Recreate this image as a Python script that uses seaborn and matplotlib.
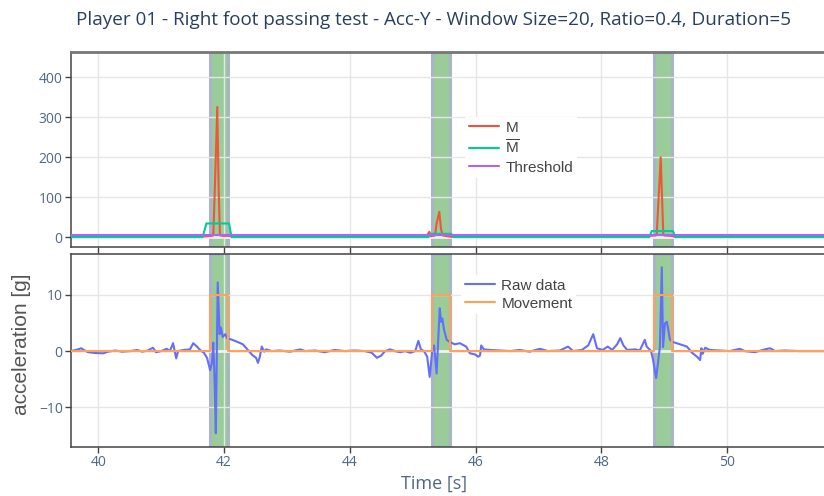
import numpy as np
import pandas as pd
import matplotlib
matplotlib.use("Agg")
import matplotlib.pyplot as plt
import seaborn as sns

# ---------------- data ----------------
title = "Player 01 - Right foot passing test - Acc-Y - Window Size=20, Ratio=0.4, Duration=5"

band_start = [41.77, 45.31, 48.83]
band_end = [42.06, 45.59, 49.12]

m_time = [39.55, 41.60, 41.72, 41.80, 41.83, 41.86, 41.893, 41.915, 41.936, 41.99, 42.08, 42.15,
          45.10, 45.22, 45.264, 45.29, 45.355, 45.38, 45.423, 45.45, 45.477, 45.55, 45.62,
          48.70, 48.78, 48.86, 48.879, 48.943, 48.984, 49.00, 49.10, 49.20, 51.65]
m_values = [0.5, 0.5, 2, 3, 4, 150, 326, 120, 4, 3, 3, 0.5,
            0.5, 2, 13, 2, 4, 34, 63, 20, 4, 2, 0.5,
            0.5, 3, 4, 5, 200, 5, 4, 3, 0.5, 0.5]

mbar_time = [39.55, 41.66, 41.72, 42.08, 42.12, 45.25, 45.29, 45.61, 45.65, 48.76, 48.80, 49.14, 49.17, 51.65]
mbar_values = [0, 0, 34, 34, 0, 0, 8, 8, 0, 0, 15, 15, 0, 0]

threshold_value = 5

raw_time = [39.57, 39.68, 39.73, 39.77, 39.84, 39.95, 40.08, 40.16, 40.27, 40.38, 40.51, 40.62, 40.70,
            40.79, 40.87, 40.92, 41.00, 41.09, 41.14, 41.19, 41.24, 41.27, 41.36, 41.46, 41.51, 41.57,
            41.62, 41.68, 41.73, 41.78, 41.81, 41.83, 41.85, 41.87, 41.90, 41.93, 41.95, 41.98, 42.02,
            42.05, 42.13, 42.22, 42.30, 42.37, 42.45, 42.51, 42.54, 42.57, 42.60, 42.64, 42.67, 42.76,
            42.89, 43.05, 43.21, 43.29, 43.45, 43.60, 43.76, 43.92, 44.08, 44.24, 44.35, 44.43, 44.50,
            44.56, 44.64, 44.72, 44.80, 44.88, 44.96, 45.04, 45.09, 45.13, 45.18, 45.23, 45.27, 45.31,
            45.34, 45.38, 45.43, 45.45, 45.47, 45.50, 45.54, 45.59, 45.67, 45.75, 45.85, 45.91, 45.99,
            46.04, 46.07, 46.09, 46.13, 46.23, 46.39, 46.55, 46.70, 46.86, 47.02, 47.15, 47.34, 47.47,
            47.55, 47.69, 47.79, 47.87, 47.93, 48.02, 48.10, 48.17, 48.25, 48.30, 48.35, 48.41, 48.54,
            48.61, 48.69, 48.72, 48.79, 48.82, 48.87, 48.90, 48.93, 48.96, 48.98, 49.01, 49.04, 49.06,
            49.09, 49.14, 49.25, 49.36, 49.44, 49.52, 49.57, 49.59, 49.61, 49.65, 49.72, 49.88, 50.04,
            50.20, 50.28, 50.44, 50.60, 50.68, 50.76, 50.91, 51.15, 51.65]
raw_values = [0.0, 0.3, 0.5, 0.2, -0.2, -0.35, -0.4, -0.1, 0.1, -0.1, 0.0, 0.2, -0.1,
              0.1, 0.6, -0.2, 0.0, 0.4, 0.0, 1.4, -1.3, 0.0, 0.2, 0.3, 1.4, 0.8,
              0.2, -0.3, -1.2, -3.4, -2.0, 1.5, -5.0, -14.6, 12.2, 3.0, 4.2, 2.5, 3.0,
              2.3, 2.0, 1.6, 1.2, 0.3, -0.7, -1.2, -2.1, -1.0, 0.8, -0.1, 0.3, 0.0,
              0.1, -0.1, 0.3, 0.0, 0.1, -0.2, 0.2, 0.0, 0.1, 0.0, -0.3, -1.2, -0.8,
              0.0, 0.3, 0.0, -0.2, 0.0, -0.3, 0.0, 1.8, 0.3, 0.0, -1.0, -4.6, 0.0,
              1.0, -4.0, 7.6, 5.2, 5.8, 3.7, 2.0, 1.6, 1.2, 1.4, 0.8, -0.4, -0.6,
              -1.0, -0.8, 1.0, 0.3, 0.2, 0.1, 0.0, 0.2, -0.1, 0.4, 0.0, 0.1, 0.8,
              0.0, 0.2, 1.0, 3.0, 0.5, 0.2, 0.8, 0.2, 1.2, 2.3, 1.0, 0.2, 0.3,
              0.1, 2.0, 0.8, 0.0, -1.5, -4.8, -2.1, 0.8, 14.9, 0.7, 4.9, 5.2, 4.0,
              2.0, 1.6, 1.2, 0.8, -0.3, -1.0, -1.6, 0.5, -0.5, 0.6, 0.2, 0.1, 0.0,
              0.4, 0.0, -0.2, 0.3, 0.5, 0.0, 0.1, 0.0, 0.0]

movement_level = 10

# ---------------- style ----------------
sns.set_theme(style="whitegrid")
plt.rcParams["font.family"] = ["Open Sans", "DejaVu Sans"]
plt.rcParams["mathtext.fontset"] = "custom"
plt.rcParams["mathtext.rm"] = "Liberation Sans"
plt.rcParams["mathtext.it"] = "Liberation Sans:italic"

C_M, C_MBAR, C_THR = "#EF553B", "#00CC96", "#AB63FA"
C_RAW, C_MOV = "#636EFA", "#FFA15A"
TICK_COL = "#506784"
GRID_COL = "#e6e6e6"

W, H = 824, 496
fig = plt.figure(figsize=(W / 100, H / 100), dpi=100)
fig.patch.set_facecolor("white")

left_px, right_px = 71, 832
ax1 = fig.add_axes([left_px / W, (H - 247) / H, (right_px - left_px) / W, (247 - 52.3) / H])
ax2 = fig.add_axes([left_px / W, (H - 446.7) / H, (right_px - left_px) / W, (446.7 - 254.3) / H])

px_per_s = 62.9
x0 = 40 - (98.2 - left_px) / px_per_s
x1 = 40 + (right_px - 98.2) / px_per_s

top_df = pd.DataFrame({"t": m_time, "v": m_values})
mbar_df = pd.DataFrame({"t": mbar_time, "v": mbar_values})
thr_df = pd.DataFrame({"t": [x0, x1], "v": [threshold_value, threshold_value]})
raw_df = pd.DataFrame({"t": raw_time, "v": raw_values})

mov_t, mov_v = [x0], [0]
for s, e in zip(band_start, band_end):
    mov_t += [s, s, e, e]
    mov_v += [0, movement_level, movement_level, 0]
mov_t.append(x1)
mov_v.append(0)
mov_df = pd.DataFrame({"t": mov_t, "v": mov_v})

lw = 1.5
for ax in (ax1, ax2):
    ax.set_facecolor("white")
    ax.set_axisbelow(True)
    ax.grid(True, color=GRID_COL, lw=1.0, zorder=0.5)
    for s, e in zip(band_start, band_end):
        ax.axvspan(s, e, facecolor="#99cc99", edgecolor="#a9b4c6", lw=2.2, zorder=0.3)
    ax.axhline(0, color="#eef0f3", lw=2, zorder=0.6)

sns.lineplot(data=top_df, x="t", y="v", ax=ax1, color=C_M, lw=lw, label="M",
             estimator=None, sort=False, zorder=3)
sns.lineplot(data=mbar_df, x="t", y="v", ax=ax1, color=C_MBAR, lw=lw, label=r"$\overline{\mathrm{M}}$",
             estimator=None, sort=False, zorder=3)
sns.lineplot(data=thr_df, x="t", y="v", ax=ax1, color=C_THR, lw=lw, label="Threshold",
             estimator=None, sort=False, zorder=3)

sns.lineplot(data=raw_df, x="t", y="v", ax=ax2, color=C_RAW, lw=lw, label="Raw data",
             estimator=None, sort=False, zorder=3)
sns.lineplot(data=mov_df, x="t", y="v", ax=ax2, color=C_MOV, lw=lw, label="Movement",
             estimator=None, sort=False, zorder=3)

ax1.set_xlim(x0, x1)
ax2.set_xlim(x0, x1)
ax1.set_ylim(-25, 463)
ax2.set_ylim(-17, 17.2)
ax1.set_yticks([0, 100, 200, 300, 400])
ax2.set_yticks([-10, 0, 10])
xt = [40, 42, 44, 46, 48, 50]
ax1.set_xticks(xt)
ax2.set_xticks(xt)
ax1.set_xticklabels([])
ax2.set_xticklabels([str(v) for v in xt])

for ax in (ax1, ax2):
    ax.set_xlabel("")
    ax.set_ylabel("")
    ax.tick_params(axis="both", which="major", direction="out", length=4, width=1,
                   color="#444444", labelcolor=TICK_COL, labelsize=10, pad=2, bottom=True, left=True)
    for sp in ax.spines.values():
        sp.set_color("#444444")
        sp.set_linewidth(1.1)
        sp.set_visible(True)
ax1.spines["top"].set_color("#777777")
ax1.spines["top"].set_linewidth(2)

leg_kw = dict(frameon=True, fancybox=False, framealpha=1.0, edgecolor="white", handlelength=2.0,
              handletextpad=0.4, borderpad=0.25, labelspacing=0.25, borderaxespad=0,
              prop={"family": ["Liberation Sans"], "size": 11})
l1 = ax1.legend(loc="upper left", bbox_to_anchor=(465 / W, (H - 117) / H),
                bbox_transform=fig.transFigure, **leg_kw)
l2 = ax2.legend(loc="upper left", bbox_to_anchor=(461 / W, (H - 275) / H),
                bbox_transform=fig.transFigure, **leg_kw)
for leg in (l1, l2):
    leg.get_frame().set_linewidth(0)
    for t in leg.get_texts():
        t.set_color("#444444")

fig.text(434 / W, 1 - 20 / H, title, ha="center", va="center", fontsize=13.6,
         color="#2a3f5f", family=["Open Sans", "DejaVu Sans"])
fig.text(434 / W, 1 - 484 / H, "Time [s]", ha="center", va="center", fontsize=13,
         color="#506784", family=["Open Sans", "DejaVu Sans"])
fig.text(22 / W, 1 - 344 / H, "acceleration [g]", ha="center", va="center", rotation=90,
         fontsize=15, color="#555555", family=["Liberation Sans", "DejaVu Sans"])

fig.savefig("out.png", dpi=100, facecolor="white")
